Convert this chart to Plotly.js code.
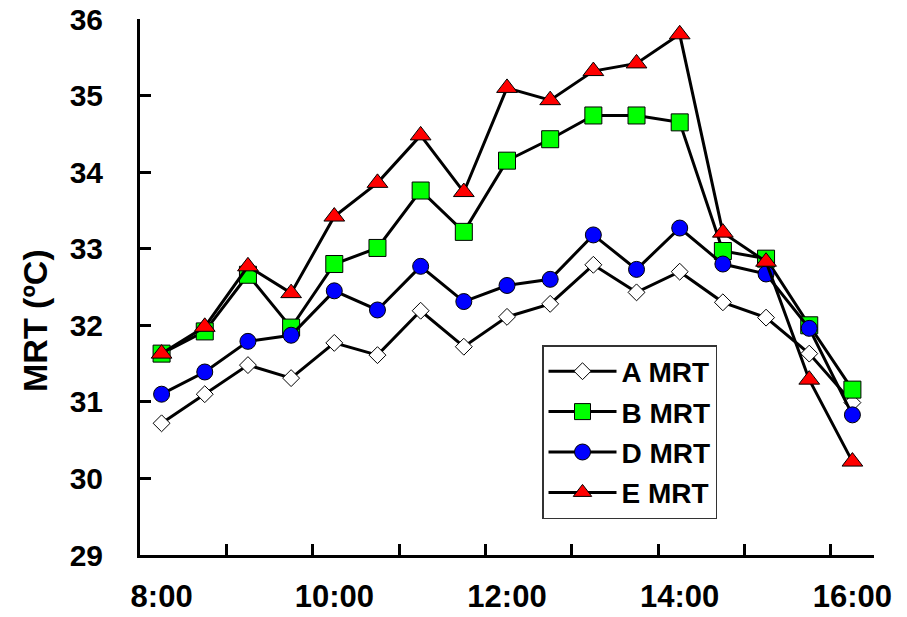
<!DOCTYPE html>
<html>
<head>
<meta charset="utf-8">
<script src="https://cdn.plot.ly/plotly-3.0.1.min.js"></script>
<style>
html,body{margin:0;padding:0;background:#fff;}
#chart{width:907px;height:617px;}
</style>
</head>
<body>
<div id="chart"></div>
<script>
// Time categories (every 30 minutes)
const times = ["8:00","8:30","9:00","9:30","10:00","10:30","11:00","11:30","12:00",
               "12:30","13:00","13:30","14:00","14:30","15:00","15:30","16:00"];
const tickLabels = ["8:00","10:00","12:00","14:00","16:00"];
const yTicks = [29,30,31,32,33,34,35,36];
const yTitle = "MRT (ºC)";

const seriesNames = ["A MRT","B MRT","D MRT","E MRT"];
const A_MRT = [30.72,31.10,31.48,31.31,31.77,31.61,32.19,31.72,32.11,32.28,32.79,32.43,32.70,32.30,32.10,31.63,30.99];
const B_MRT = [31.63,31.92,32.66,31.97,32.80,33.01,33.76,33.22,34.15,34.43,34.74,34.74,34.65,32.97,32.87,32.00,31.16];
const D_MRT = [31.10,31.39,31.79,31.87,32.45,32.20,32.77,32.31,32.52,32.60,33.18,32.73,33.27,32.80,32.67,31.96,30.83];
const E_MRT = [31.63,31.98,32.77,32.42,33.42,33.86,34.48,33.74,35.10,34.94,35.32,35.42,35.80,33.21,32.83,31.29,30.22];

const xIdx = times.map((t,i)=>i);
const FONT = "Liberation Sans, Arial, sans-serif";

const styles = [
  {symbol:"diamond", color:"#ffffff", size:13},
  {symbol:"square", color:"#00ff00", size:17},
  {symbol:"circle", color:"#0000ff", size:16},
  {symbol:"triangle-up", color:"#ff0000", size:18}
];
const values = [A_MRT,B_MRT,D_MRT,E_MRT];

const traces = values.map((v,k)=>({
  x: xIdx, y: v, type:"scatter", mode:"lines+markers", name: seriesNames[k],
  legendgroup: "g"+k,
  line:{color:"#000000", width:3},
  marker:{symbol:styles[k].symbol, color:styles[k].color, size:styles[k].size,
          line:{color:"#000000", width:1}},
  text: times, hoverinfo:"text+y"
}));

// boundaries between categories every 2 categories (Excel-style tick marks)
const minorVals = [];
for (let i=1;i<times.length-1;i+=2) minorVals.push(i+0.5);

const layout = {
  width:907, height:617,
  margin:{l:140, r:33, t:19, b:62},
  paper_bgcolor:"#ffffff", plot_bgcolor:"#ffffff",
  font:{family:FONT, color:"#000000", size:28, weight:"bold"},
  showlegend:true,
  legend:{
    x:(542-140)/734, y:(555-345)/536, xanchor:"left", yanchor:"top",
    bgcolor:"#ffffff", bordercolor:"#333333", borderwidth:1.5,
    font:{family:FONT, size:28, color:"#000000", weight:"bold"},
    tracegroupgap:1, itemwidth:68
  },
  xaxis:{
    range:[-0.5, times.length-0.5], showgrid:false, zeroline:false,
    showline:true, linecolor:"#000000", linewidth:3,
    tickmode:"array", tickvals: tickLabels.map(t=>times.indexOf(t)), ticktext: tickLabels,
    ticks:"", ticklabelstandoff:12,
    tickfont:{family:FONT, size:31, color:"#000000", weight:"bold"},
    minor:{tickmode:"array", tickvals:minorVals, ticks:"inside", ticklen:11, tickwidth:3, tickcolor:"#000000", showgrid:false}
  },
  yaxis:{
    range:[29,36], showgrid:false, zeroline:false,
    showline:true, linecolor:"#000000", linewidth:3,
    tickmode:"array", tickvals:yTicks,
    ticks:"inside", ticklen:11, tickwidth:3, tickcolor:"#000000",
    ticklabelstandoff:28,
    tickfont:{family:FONT, size:30, color:"#000000", weight:"bold"}
  },
  annotations:[{
    text: yTitle, textangle:-90, showarrow:false,
    xref:"paper", yref:"paper", x:(35-140)/734, y:(555-321)/536,
    xanchor:"center", yanchor:"middle",
    font:{family:FONT, size:34, color:"#000000", weight:"bold"}
  }]
};

Plotly.newPlot("chart", traces, layout, {displayModeBar:false, staticPlot:true});
</script>
</body>
</html>
